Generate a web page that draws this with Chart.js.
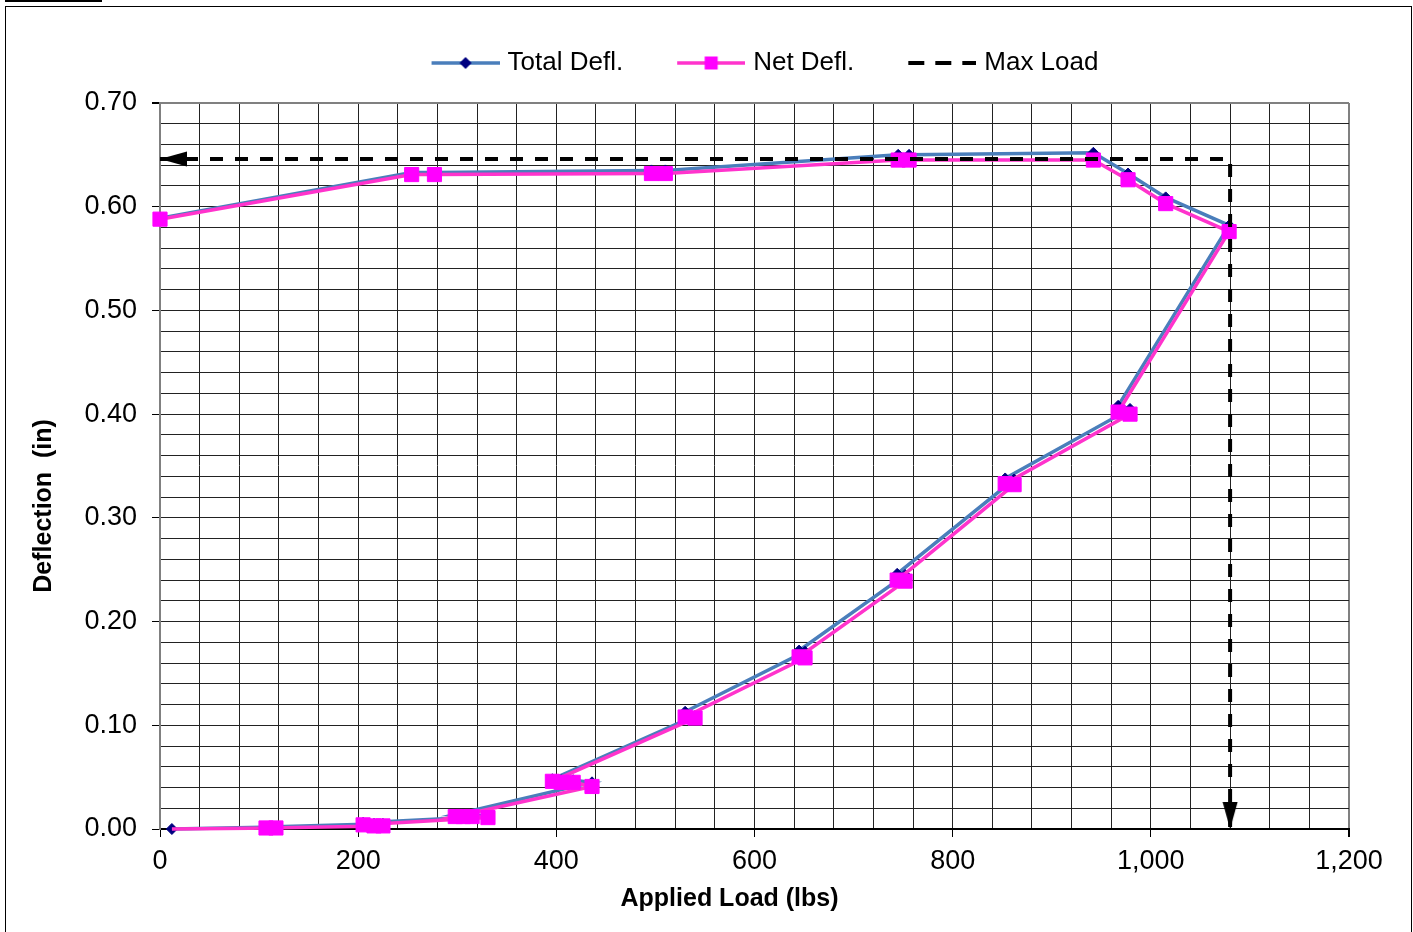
<!DOCTYPE html>
<html>
<head>
<meta charset="utf-8">
<title>Applied Load vs Deflection</title>
<script src="https://cdn.jsdelivr.net/npm/chart.js@4.4.1/dist/chart.umd.min.js"></script>
<style>
	html, body { margin: 0; padding: 0; background: #fff; }
	#sheet { position: relative; width: 1413px; height: 932px; overflow: hidden; }
	#tab { position: absolute; left: 5px; top: 0; width: 97px; height: 2px; background: #000; }
	#frame { position: absolute; left: 5px; top: 6px; width: 1405px; height: 940px; border: 1px solid #000; }
	#loadChart { position: absolute; left: 0; top: 0; }
</style>
</head>
<body>
<div id="sheet">
	<div id="tab"></div>
	<div id="frame"></div>
	<canvas id="loadChart" width="1413" height="932"></canvas>
</div>
<script>
// Test readings: applied load (lbs) against total and net deflection (in)
const loads = [12, 117, 107, 225, 216, 205, 331, 315, 306, 298, 436, 417, 405, 396, 540, 530, 651, 645, 752, 744, 862, 853, 979, 967, 1079, 1015, 977, 942, 756, 745, 510, 496, 277, 254, 0];
const totalDefl = [0.000, 0.002, 0.002, 0.005, 0.005, 0.006, 0.012, 0.014, 0.014, 0.014, 0.045, 0.047, 0.047, 0.048, 0.109, 0.113, 0.171, 0.172, 0.245, 0.246, 0.337, 0.338, 0.405, 0.408, 0.582, 0.609, 0.632, 0.652, 0.650, 0.650, 0.635, 0.635, 0.633, 0.633, 0.589];
const netDefl = [0.000, 0.001, 0.001, 0.003, 0.003, 0.004, 0.011, 0.012, 0.012, 0.012, 0.041, 0.045, 0.045, 0.046, 0.107, 0.108, 0.165, 0.166, 0.239, 0.240, 0.332, 0.333, 0.400, 0.402, 0.576, 0.603, 0.626, 0.645, 0.645, 0.645, 0.632, 0.632, 0.631, 0.631, 0.588];

// Max load guide: from the deflection axis across to max load, then down to zero
const maxLoadX = [0, 1080, 1080];
const maxLoadY = [0.646, 0.646, 0];

const seriesNames = ["Total Defl.", "Net Defl.", "Max Load"];
const xTitle = "Applied Load (lbs)";
const yTitle = "Deflection  (in)";

const FONT = "'Liberation Sans', Arial, sans-serif";
const TOTAL_LINE = "#4a7ebb";
const TOTAL_MARK = "#000080";
const NET_LINE = "#ff33cc";
const NET_MARK = "#ff00ff";
const GRID = "#222";
const FRAME = "#808080";

const toPoints = (xs, ys) => xs.map((x, i) => ({ x: x, y: ys[i] }));
const isMajorY = (v) => Math.abs(v * 10 - Math.round(v * 10)) < 1e-6;

// arrow head pointing down, the tip sits at the canvas centre
const makeArrow = () => {
	const c = document.createElement("canvas");
	c.width = 16;
	c.height = 54;
	const ctx = c.getContext("2d");
	ctx.fillStyle = "#000";
	ctx.beginPath();
	ctx.moveTo(0.5, 0);
	ctx.lineTo(15.5, 0);
	ctx.lineTo(8, 27);
	ctx.closePath();
	ctx.fill();
	return c;
};

// legend swatch (line + marker); the left part stays blank so the swatch sits close to its text
const makeLegendIcon = (draw) => {
	const c = document.createElement("canvas");
	c.width = 94;
	c.height = 18;
	draw(c.getContext("2d"), 26, 94, 9);
	return c;
};

const legendIcons = [
	makeLegendIcon((ctx, x0, x1, y) => {
		ctx.strokeStyle = TOTAL_LINE;
		ctx.lineWidth = 3.5;
		ctx.beginPath();
		ctx.moveTo(x0, y);
		ctx.lineTo(x1, y);
		ctx.stroke();
		const cx = (x0 + x1) / 2;
		ctx.fillStyle = TOTAL_MARK;
		ctx.beginPath();
		ctx.moveTo(cx - 6, y);
		ctx.lineTo(cx, y - 6);
		ctx.lineTo(cx + 6, y);
		ctx.lineTo(cx, y + 6);
		ctx.closePath();
		ctx.fill();
	}),
	makeLegendIcon((ctx, x0, x1, y) => {
		ctx.strokeStyle = NET_LINE;
		ctx.lineWidth = 3.5;
		ctx.beginPath();
		ctx.moveTo(x0, y);
		ctx.lineTo(x1, y);
		ctx.stroke();
		const cx = (x0 + x1) / 2;
		ctx.fillStyle = NET_MARK;
		ctx.fillRect(cx - 6.5, y - 6.5, 13, 13);
	}),
	makeLegendIcon((ctx, x0, x1, y) => {
		ctx.strokeStyle = "#000";
		ctx.lineWidth = 4;
		ctx.setLineDash([16, 11]);
		ctx.beginPath();
		ctx.moveTo(x0, y);
		ctx.lineTo(x1, y);
		ctx.stroke();
	}),
];

const arrow = makeArrow();

// extra room under the legend
const legendSpacing = {
	id: "legendSpacing",
	beforeInit(chart) {
		const fit = chart.legend.fit;
		chart.legend.fit = function () {
			fit.bind(chart.legend)();
			this.height += 17;
		};
	},
};

// axis titles sit a little off centre, so they are drawn here instead of by the scales
const axisTitles = {
	id: "axisTitles",
	afterDraw(chart) {
		const { ctx, chartArea } = chart;
		ctx.save();
		ctx.fillStyle = "#000";
		ctx.font = "bold 25px " + FONT;
		ctx.textAlign = "center";
		ctx.textBaseline = "middle";
		ctx.fillText(xTitle, chartArea.left + chartArea.width * 0.479, chartArea.bottom + 70);
		ctx.translate(44, chartArea.top + chartArea.height * 0.555);
		ctx.rotate(-Math.PI / 2);
		ctx.fillText(yTitle, 0, 0);
		ctx.restore();
	},
};

new Chart(document.getElementById("loadChart"), {
	type: "scatter",
	data: {
		datasets: [
			{
				label: seriesNames[0],
				data: toPoints(loads, totalDefl),
				showLine: true,
				borderColor: TOTAL_LINE,
				borderWidth: 3.5,
				pointStyle: "rectRot",
				pointRadius: 5.5,
				pointBackgroundColor: TOTAL_MARK,
				pointBorderColor: TOTAL_MARK,
				pointBorderWidth: 1,
				order: 3,
				clip: false,
			},
			{
				label: seriesNames[1],
				data: toPoints(loads, netDefl),
				showLine: true,
				borderColor: NET_LINE,
				borderWidth: 3.5,
				pointStyle: "rect",
				pointRadius: loads.map((x, i) => (i === 0 ? 0 : 10)),
				pointBackgroundColor: NET_MARK,
				pointBorderColor: NET_MARK,
				pointBorderWidth: 1,
				order: 2,
				clip: false,
			},
			{
				label: seriesNames[2],
				data: toPoints(maxLoadX, maxLoadY),
				showLine: true,
				borderColor: "#000",
				borderWidth: 4,
				borderDash: [13, 12],
				pointStyle: [arrow, "circle", arrow],
				pointRadius: [1, 0, 1],
				pointRotation: [90, 0, 0],
				order: 1,
				clip: false,
			},
		],
	},
	options: {
		responsive: false,
		animation: false,
		events: [],
		layout: { padding: { top: 17, right: 64, bottom: 0, left: 0 } },
		plugins: {
			legend: {
				position: "top",
				fullSize: false,
				labels: {
					usePointStyle: true,
					pointStyleWidth: 84,
					padding: 33,
					color: "#000",
					font: { family: FONT, size: 26 },
					sort: (a, b) => a.datasetIndex - b.datasetIndex,
					generateLabels: (chart) =>
						Chart.defaults.plugins.legend.labels.generateLabels(chart).map((item) => ({
							...item,
							pointStyle: legendIcons[item.datasetIndex],
							rotation: 0,
						})),
				},
			},
			tooltip: { enabled: false },
		},
		scales: {
			x: {
				type: "linear",
				min: 0,
				max: 1200,
				ticks: {
					stepSize: 40,
					autoSkip: false,
					maxRotation: 0,
					padding: 8,
					color: "#000",
					font: { family: FONT, size: 27 },
					callback: (v) => (v % 200 === 0 ? v.toLocaleString("en-US") : ""),
				},
				grid: {
					color: (c) => (c.tick && c.tick.value === 1200 ? FRAME : GRID),
					lineWidth: (c) => (c.tick && c.tick.value === 1200 ? 2 : 1),
					tickLength: 8,
					tickColor: (c) => (c.tick && c.tick.value % 200 === 0 ? "#000" : "rgba(0,0,0,0)"),
				},
				border: { color: "#000", width: 2 },
				afterFit: (scale) => {
					scale.height = 103;
				},
			},
			y: {
				min: 0,
				max: 0.7,
				ticks: {
					stepSize: 0.02,
					autoSkip: false,
					padding: 15,
					color: "#000",
					font: { family: FONT, size: 27 },
					callback: (v) => (isMajorY(v) ? v.toFixed(2) : ""),
				},
				grid: {
					color: (c) => (c.tick && Math.abs(c.tick.value - 0.7) < 1e-6 ? FRAME : GRID),
					lineWidth: (c) => (c.tick && Math.abs(c.tick.value - 0.7) < 1e-6 ? 2 : 1),
					tickLength: 8,
					tickColor: (c) => (c.tick && isMajorY(c.tick.value) ? "#000" : "rgba(0,0,0,0)"),
				},
				border: { color: FRAME, width: 2 },
				afterFit: (scale) => {
					scale.width = 160;
				},
			},
		},
	},
	plugins: [legendSpacing, axisTitles],
});
</script>
</body>
</html>
